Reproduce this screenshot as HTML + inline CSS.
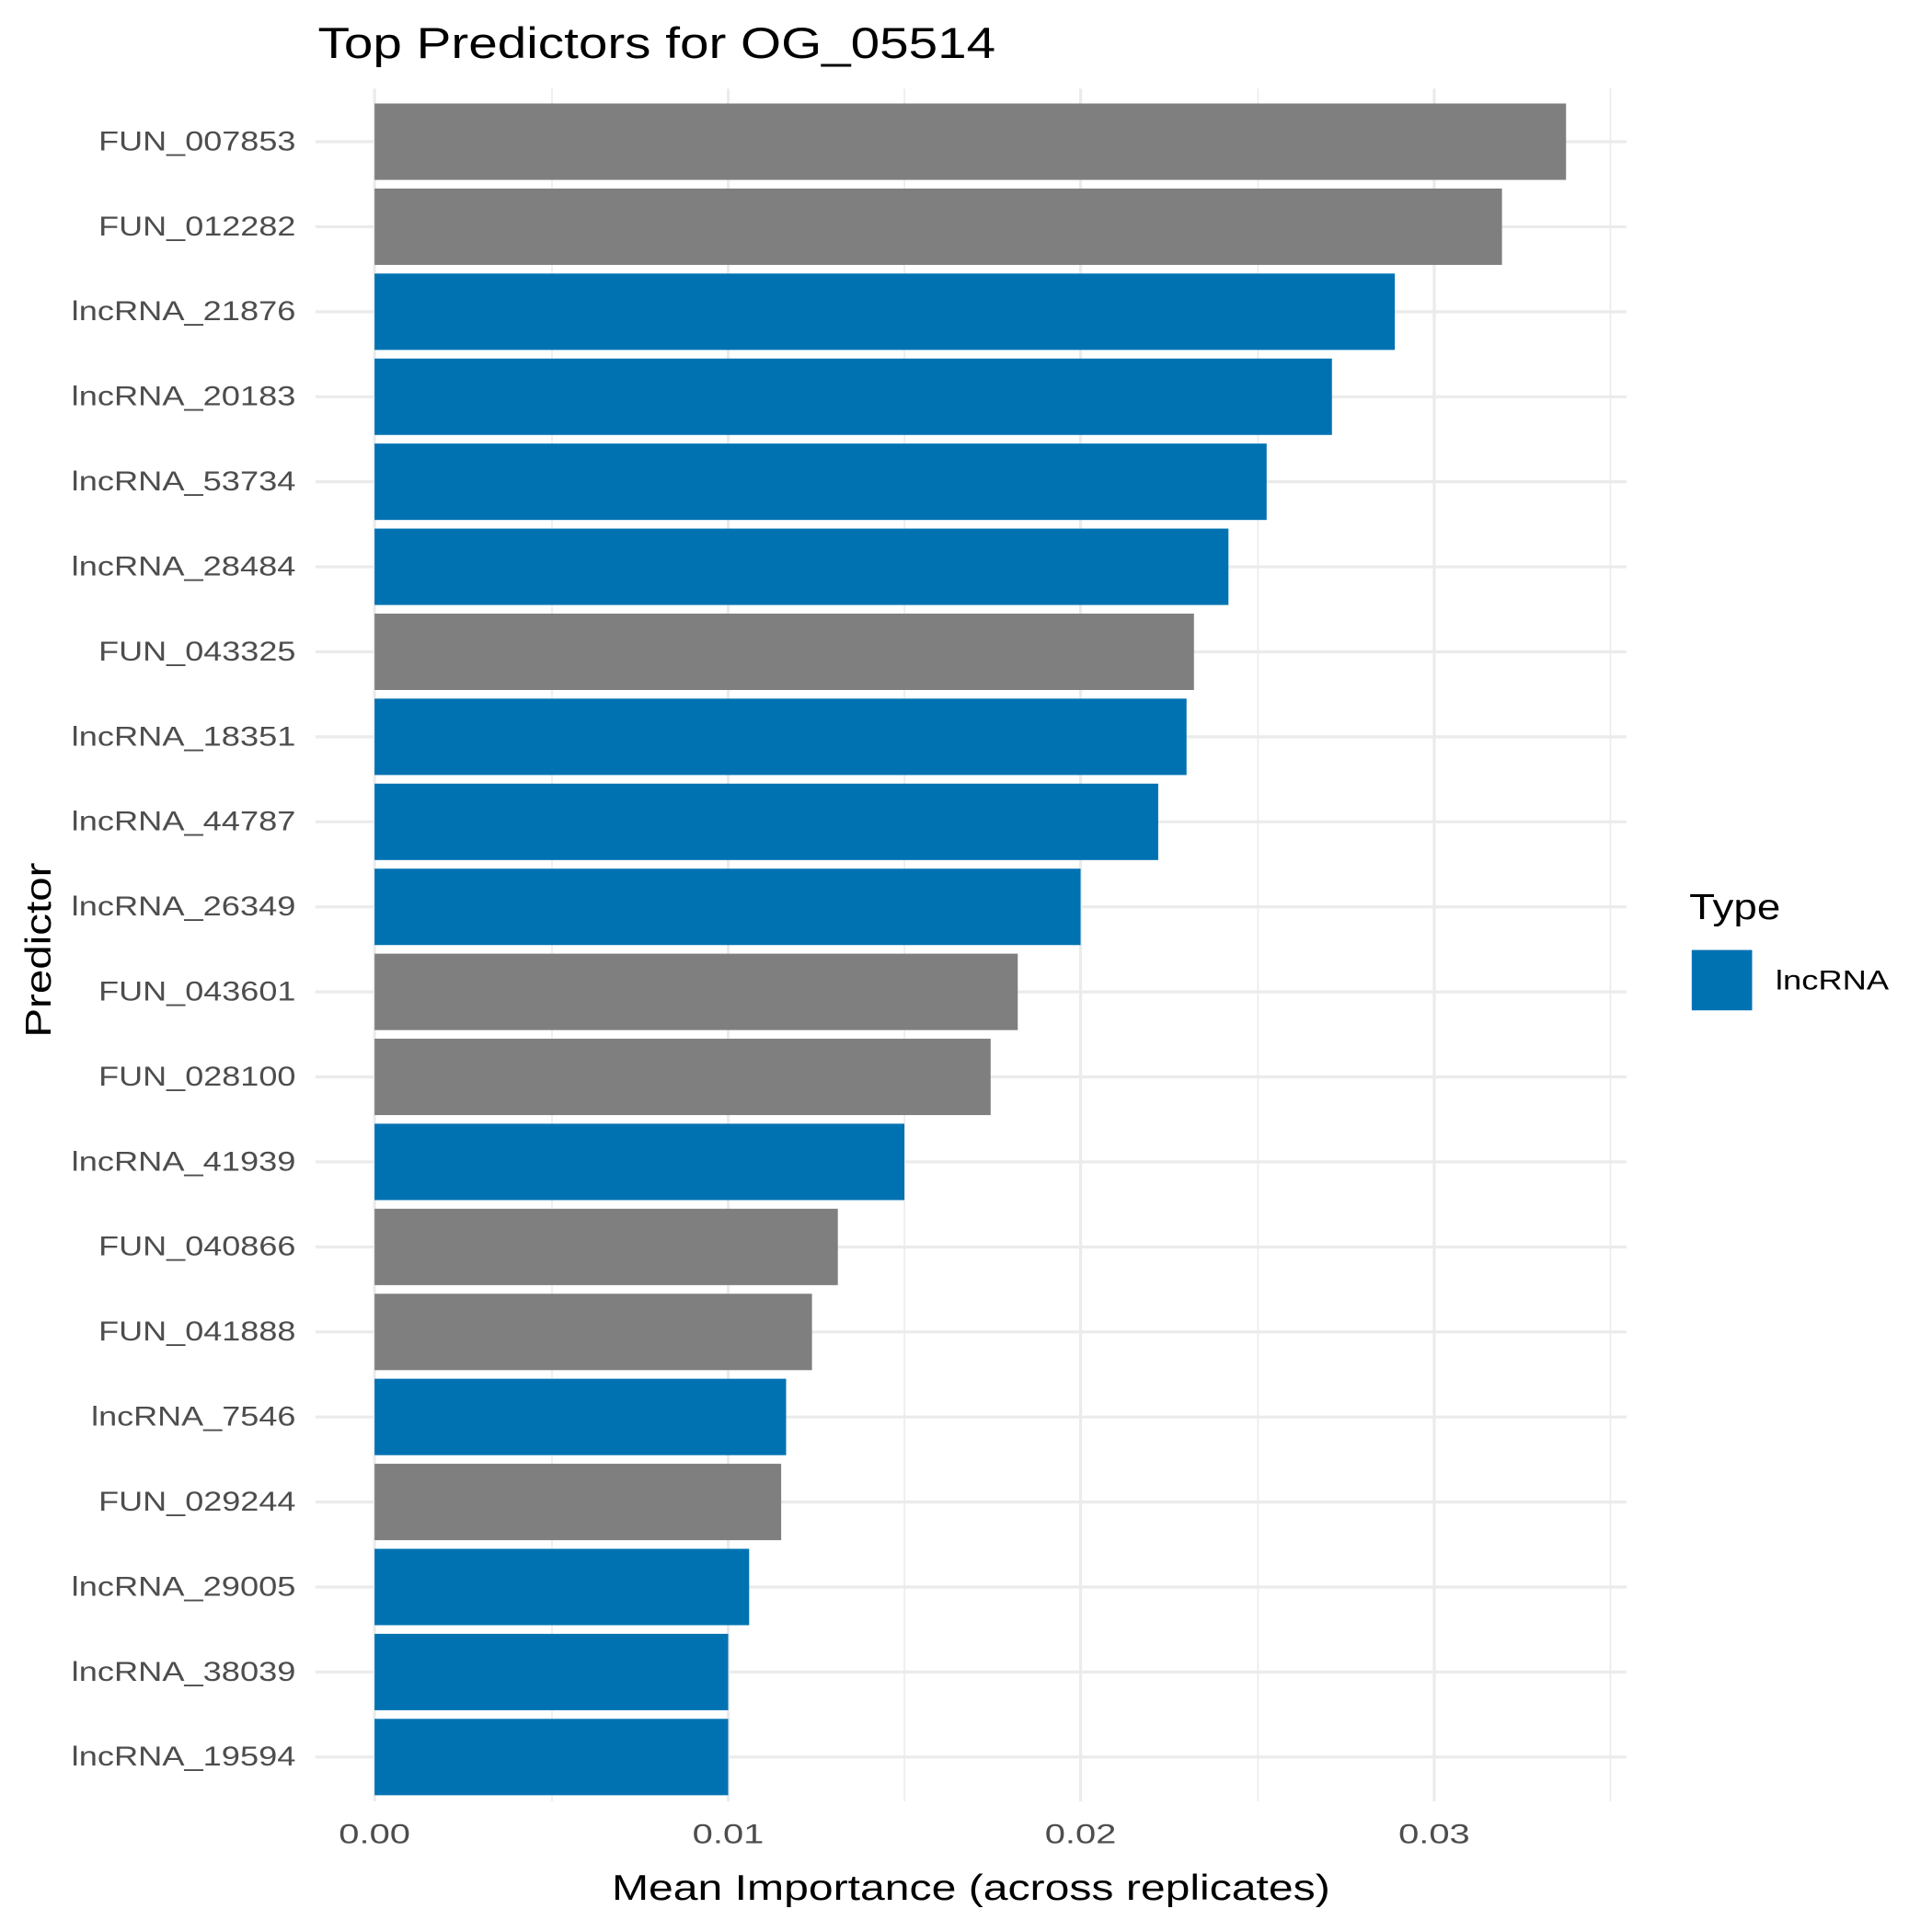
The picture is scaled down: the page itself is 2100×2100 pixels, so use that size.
<!DOCTYPE html>
<html><head><style>html,body{margin:0;padding:0;background:#fff}svg{display:block}</style></head>
<body>
<svg width="2100" height="2100" viewBox="0 0 1568 1568" xmlns="http://www.w3.org/2000/svg" font-family="Liberation Sans, DejaVu Sans, sans-serif">
<rect width="1568" height="1568" fill="#fff"/>
<g stroke="#ebebeb" stroke-width="1.2">
<line x1="448" y1="72" x2="448" y2="1462"/><line x1="734" y1="72" x2="734" y2="1462"/><line x1="1021" y1="72" x2="1021" y2="1462"/><line x1="1307" y1="72" x2="1307" y2="1462"/>
</g>
<g stroke="#ebebeb" stroke-width="2.4">
<line x1="304" y1="72" x2="304" y2="1462"/><line x1="591" y1="72" x2="591" y2="1462"/><line x1="877" y1="72" x2="877" y2="1462"/><line x1="1164" y1="72" x2="1164" y2="1462"/>
<line x1="256" y1="115" x2="1320" y2="115"/><line x1="256" y1="184" x2="1320" y2="184"/><line x1="256" y1="253" x2="1320" y2="253"/><line x1="256" y1="322" x2="1320" y2="322"/><line x1="256" y1="391" x2="1320" y2="391"/><line x1="256" y1="460" x2="1320" y2="460"/><line x1="256" y1="529" x2="1320" y2="529"/><line x1="256" y1="598" x2="1320" y2="598"/><line x1="256" y1="667" x2="1320" y2="667"/><line x1="256" y1="736" x2="1320" y2="736"/><line x1="256" y1="805" x2="1320" y2="805"/><line x1="256" y1="874" x2="1320" y2="874"/><line x1="256" y1="943" x2="1320" y2="943"/><line x1="256" y1="1012" x2="1320" y2="1012"/><line x1="256" y1="1081" x2="1320" y2="1081"/><line x1="256" y1="1150" x2="1320" y2="1150"/><line x1="256" y1="1219" x2="1320" y2="1219"/><line x1="256" y1="1288" x2="1320" y2="1288"/><line x1="256" y1="1357" x2="1320" y2="1357"/><line x1="256" y1="1426" x2="1320" y2="1426"/>
</g>
<g>
<rect x="304" y="84" width="967" height="62" fill="#7f7f7f"/>
<rect x="304" y="153" width="915" height="62" fill="#7f7f7f"/>
<rect x="304" y="222" width="828" height="62" fill="#0072B2"/>
<rect x="304" y="291" width="777" height="62" fill="#0072B2"/>
<rect x="304" y="360" width="724" height="62" fill="#0072B2"/>
<rect x="304" y="429" width="693" height="62" fill="#0072B2"/>
<rect x="304" y="498" width="665" height="62" fill="#7f7f7f"/>
<rect x="304" y="567" width="659" height="62" fill="#0072B2"/>
<rect x="304" y="636" width="636" height="62" fill="#0072B2"/>
<rect x="304" y="705" width="573" height="62" fill="#0072B2"/>
<rect x="304" y="774" width="522" height="62" fill="#7f7f7f"/>
<rect x="304" y="843" width="500" height="62" fill="#7f7f7f"/>
<rect x="304" y="912" width="430" height="62" fill="#0072B2"/>
<rect x="304" y="981" width="376" height="62" fill="#7f7f7f"/>
<rect x="304" y="1050" width="355" height="62" fill="#7f7f7f"/>
<rect x="304" y="1119" width="334" height="62" fill="#0072B2"/>
<rect x="304" y="1188" width="330" height="62" fill="#7f7f7f"/>
<rect x="304" y="1257" width="304" height="62" fill="#0072B2"/>
<rect x="304" y="1326" width="287" height="62" fill="#0072B2"/>
<rect x="304" y="1395" width="287" height="62" fill="#0072B2"/>
</g>
<g font-size="22" fill="#4d4d4d" text-anchor="end" lengthAdjust="spacingAndGlyphs">
<text x="240" y="122" textLength="160" lengthAdjust="spacingAndGlyphs">FUN_007853</text>
<text x="240" y="191" textLength="160" lengthAdjust="spacingAndGlyphs">FUN_012282</text>
<text x="240" y="260" textLength="182" lengthAdjust="spacingAndGlyphs">lncRNA_21876</text>
<text x="240" y="329" textLength="182" lengthAdjust="spacingAndGlyphs">lncRNA_20183</text>
<text x="240" y="398" textLength="182" lengthAdjust="spacingAndGlyphs">lncRNA_53734</text>
<text x="240" y="467" textLength="182" lengthAdjust="spacingAndGlyphs">lncRNA_28484</text>
<text x="240" y="536" textLength="160" lengthAdjust="spacingAndGlyphs">FUN_043325</text>
<text x="240" y="605" textLength="182" lengthAdjust="spacingAndGlyphs">lncRNA_18351</text>
<text x="240" y="674" textLength="182" lengthAdjust="spacingAndGlyphs">lncRNA_44787</text>
<text x="240" y="743" textLength="182" lengthAdjust="spacingAndGlyphs">lncRNA_26349</text>
<text x="240" y="812" textLength="160" lengthAdjust="spacingAndGlyphs">FUN_043601</text>
<text x="240" y="881" textLength="160" lengthAdjust="spacingAndGlyphs">FUN_028100</text>
<text x="240" y="950" textLength="182" lengthAdjust="spacingAndGlyphs">lncRNA_41939</text>
<text x="240" y="1019" textLength="160" lengthAdjust="spacingAndGlyphs">FUN_040866</text>
<text x="240" y="1088" textLength="160" lengthAdjust="spacingAndGlyphs">FUN_041888</text>
<text x="240" y="1157" textLength="166" lengthAdjust="spacingAndGlyphs">lncRNA_7546</text>
<text x="240" y="1226" textLength="160" lengthAdjust="spacingAndGlyphs">FUN_029244</text>
<text x="240" y="1295" textLength="182" lengthAdjust="spacingAndGlyphs">lncRNA_29005</text>
<text x="240" y="1364" textLength="182" lengthAdjust="spacingAndGlyphs">lncRNA_38039</text>
<text x="240" y="1433" textLength="182" lengthAdjust="spacingAndGlyphs">lncRNA_19594</text>
</g>
<g font-size="22" fill="#4d4d4d" text-anchor="middle">
<text x="304" y="1496" textLength="58" lengthAdjust="spacingAndGlyphs">0.00</text>
<text x="591" y="1496" textLength="58" lengthAdjust="spacingAndGlyphs">0.01</text>
<text x="877" y="1496" textLength="58" lengthAdjust="spacingAndGlyphs">0.02</text>
<text x="1164" y="1496" textLength="58" lengthAdjust="spacingAndGlyphs">0.03</text>
</g>
<text x="788" y="1542" font-size="29" text-anchor="middle" fill="#000" textLength="583" lengthAdjust="spacingAndGlyphs">Mean Importance (across replicates)</text>
<text transform="translate(41,771) rotate(-90)" font-size="29" text-anchor="middle" fill="#000" textLength="142" lengthAdjust="spacingAndGlyphs">Predictor</text>
<text x="258" y="47" font-size="35" fill="#000" textLength="550" lengthAdjust="spacingAndGlyphs">Top Predictors for OG_05514</text>
<text x="1371" y="746" font-size="29" fill="#000" textLength="74" lengthAdjust="spacingAndGlyphs">Type</text>
<rect x="1373" y="771" width="49" height="49" fill="#0072B2"/>
<text x="1441" y="803" font-size="22" fill="#000" textLength="92" lengthAdjust="spacingAndGlyphs">lncRNA</text>
</svg>
</body></html>
